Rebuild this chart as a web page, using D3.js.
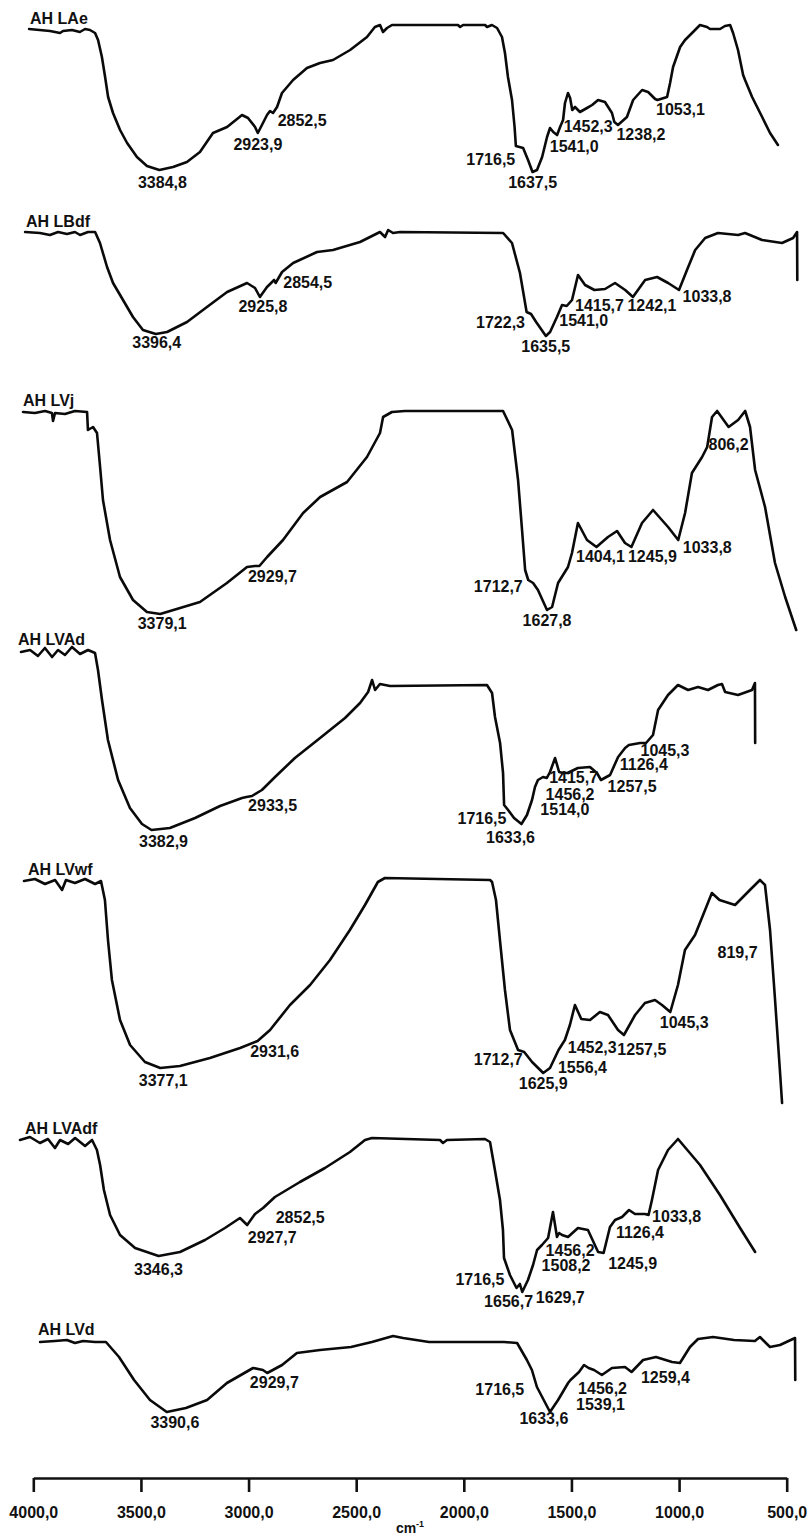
<!DOCTYPE html>
<html>
<head>
<meta charset="utf-8">
<script src="https://cdn.jsdelivr.net/npm/d3@7"></script>
<style>
  html, body { margin: 0; padding: 0; background: #fff; }
  svg { display: block; }
  text { font-family: "Liberation Sans", Arial, Helvetica, sans-serif; font-weight: bold; fill: #111; }
</style>
</head>
<body>
<svg id="chart" width="810" height="1537"></svg>
<script>
// ---- FTIR spectra: [wavenumber (cm-1), transmittance (a.u.)] ----
const samples = ["AH LAe", "AH LBdf", "AH LVj", "AH LVAd", "AH LVwf", "AH LVAdf", "AH LVd"];

const spectrumLAe = [[3995,98.4],[3897,97.6],[3850,96.8],[3836,97.6],[3794,98.0],[3757,97.2],[3733,98.4],[3710,98.0],[3686,96.8],[3672,94.0],[3654,87.2],[3639,79.2],[3625,71.2],[3602,64.8],[3569,58.0],[3536,52.8],[3490,47.2],[3443,43.6],[3385,42.0],[3321,43.2],[3256,45.2],[3195,49.2],[3134,56.8],[3068,59.2],[2998,64.0],[2970,62.8],[2937,59.2],[2924,56.8],[2900,60.8],[2881,64.0],[2867,65.6],[2853,64.8],[2834,67.2],[2811,72.8],[2759,78.0],[2694,82.8],[2633,84.8],[2572,86.0],[2492,90.0],[2413,95.2],[2376,99.2],[2352,100],[2338,97.2],[2319,98.8],[2296,100],[1987,100],[1977,99.2],[1963,100],[1860,100],[1851,99.2],[1828,100],[1804,98.8],[1781,95.2],[1767,88.8],[1753,79.2],[1734,70.0],[1722,59.2],[1716,51.6],[1682,50.8],[1659,46.0],[1638,41.2],[1617,42.0],[1593,47.2],[1570,55.2],[1556,58.8],[1541,57.2],[1523,56.0],[1509,59.2],[1495,62.0],[1486,68.8],[1472,72.8],[1462,70.8],[1452,66.0],[1439,67.2],[1416,65.2],[1383,66.8],[1359,68.0],[1331,70.0],[1299,69.2],[1266,64.8],[1255,61.2],[1238,60.0],[1196,63.2],[1167,70.0],[1125,74.0],[1097,73.2],[1064,70.4],[1053,70.0],[1008,71.2],[994,76.8],[980,83.2],[947,91.2],[924,94.0],[891,96.8],[854,100],[821,99.2],[807,98.4],[760,98.4],[737,99.6],[713,100],[699,96.8],[676,90.0],[652,80.0],[643,78.0],[610,71.2],[563,63.2],[526,56.8],[489,52.0]];

const spectrumLBdf = [[3986,100],[3919,99.6],[3874,98.8],[3837,100],[3797,99.2],[3761,100],[3738,98.8],[3702,100],[3670,100],[3648,95.6],[3616,86.0],[3589,79.6],[3544,72.8],[3499,66.0],[3454,60.8],[3396,59.2],[3345,60.0],[3255,64.0],[3165,70.0],[3074,76.0],[2984,79.6],[2948,77.6],[2926,74.0],[2894,78.0],[2880,79.2],[2862,80.8],[2855,79.6],[2826,84.0],[2776,87.6],[2668,92.0],[2596,92.8],[2474,96.0],[2384,100],[2361,98.0],[2347,100.8],[2325,99.6],[2293,100],[1828,99.6],[1788,95.6],[1752,83.6],[1722,68.0],[1702,67.2],[1679,64.0],[1635,58.4],[1616,60.0],[1585,66.0],[1562,70.8],[1541,70.4],[1517,72.8],[1490,82.8],[1458,78.8],[1416,76.8],[1368,77.2],[1323,79.6],[1277,76.8],[1242,74.0],[1187,80.8],[1133,82.0],[1083,79.6],[1034,76.8],[998,84.8],[961,92.8],[916,97.6],[858,99.6],[767,98.8],[736,99.6],[659,96.8],[569,95.6],[519,97.6],[501,100],[500,80.8]];

const spectrumLVj = [[4000,99.6],[3946,99.2],[3900,100],[3869,99.2],[3864,96.0],[3855,99.2],[3810,98.8],[3765,100],[3710,99.6],[3706,92.4],[3683,93.6],[3665,91.2],[3651,77.6],[3638,64.4],[3606,48.4],[3561,33.6],[3502,24.4],[3439,19.6],[3379,18.8],[3289,21.2],[3199,23.6],[3077,31.2],[2986,37.6],[2950,38.0],[2930,38.0],[2895,41.6],[2823,48.4],[2732,59.2],[2655,65.6],[2533,71.6],[2443,81.6],[2384,91.2],[2370,97.6],[2330,99.6],[2271,100],[1827,100],[1786,92.4],[1759,72.4],[1741,52.4],[1727,36.4],[1713,32.4],[1691,31.2],[1669,28.4],[1628,20.4],[1605,21.6],[1578,31.2],[1533,37.6],[1515,43.2],[1488,55.2],[1447,48.4],[1404,45.6],[1352,49.6],[1311,52.0],[1275,47.2],[1246,45.6],[1198,55.2],[1148,60.4],[1080,53.6],[1034,48.4],[1003,59.2],[972,75.2],[926,81.6],[903,85.6],[881,97.6],[858,100],[806,93.6],[763,96.4],[731,100],[709,93.6],[686,76.4],[641,61.6],[596,39.2],[550,25.6],[500,12.4]];

const spectrumLVAd = [[4000,99.2],[3957,100],[3920,97.6],[3887,100.8],[3853,97.2],[3825,100],[3792,98.0],[3759,101.2],[3721,98.4],[3683,100],[3650,98.8],[3636,92.0],[3617,80.0],[3589,64.0],[3541,48.0],[3485,36.8],[3428,30.4],[3383,28.0],[3296,28.8],[3177,32.8],[3059,37.6],[2955,40.8],[2934,41.2],[2908,41.6],[2861,44.0],[2799,49.2],[2705,56.8],[2586,64.8],[2468,72.8],[2397,78.8],[2359,83.2],[2340,88.0],[2326,84.0],[2303,86.4],[2255,85.6],[1797,86.0],[1773,82.8],[1759,73.2],[1735,62.8],[1721,50.8],[1716,38.0],[1697,36.0],[1669,32.8],[1634,30.4],[1608,34.0],[1584,40.0],[1570,45.2],[1556,48.0],[1532,49.2],[1514,48.8],[1499,51.2],[1475,56.8],[1456,51.2],[1437,50.8],[1416,50.8],[1367,52.8],[1310,53.2],[1277,50.8],[1258,48.0],[1215,50.0],[1177,57.2],[1144,60.8],[1126,62.0],[1073,62.8],[1045,62.8],[1012,66.0],[988,76.0],[941,82.0],[894,86.0],[846,84.0],[799,85.2],[752,84.0],[705,86.0],[686,86.4],[671,83.2],[610,82.0],[544,84.0],[530,86.8],[529,62.8]];

const spectrumLVwf = [[4000,99.6],[3950,100.4],[3904,98.4],[3858,100],[3826,96.0],[3808,100],[3767,98.8],[3721,100.4],[3675,98.4],[3648,99.6],[3630,92.0],[3616,76.0],[3598,60.0],[3561,44.0],[3515,34.0],[3447,27.2],[3377,24.8],[3287,25.6],[3150,28.8],[3012,32.8],[2932,35.6],[2875,40.0],[2784,50.0],[2692,58.0],[2601,68.0],[2510,80.0],[2441,90.0],[2382,99.2],[2350,100.8],[1869,100],[1860,99.2],[1842,92.0],[1824,76.0],[1801,56.0],[1778,40.0],[1741,32.0],[1713,31.2],[1677,27.2],[1626,22.8],[1595,24.8],[1556,32.0],[1527,36.0],[1504,42.0],[1481,50.0],[1452,44.4],[1412,44.0],[1367,47.2],[1330,46.0],[1284,40.0],[1257,38.0],[1206,46.0],[1161,50.8],[1115,52.0],[1083,50.0],[1045,47.2],[1010,58.0],[978,72.0],[932,78.0],[886,88.0],[855,94.8],[820,92.0],[749,90.0],[681,96.0],[635,100],[612,98.0],[589,80.0],[566,52.0],[544,24.0],[534,10.8]];

const spectrumLVAdf = [[4000,99.6],[3953,100.8],[3906,98.4],[3868,100],[3835,96.4],[3811,99.6],[3773,98.0],[3740,100.4],[3693,97.2],[3660,99.6],[3637,95.6],[3622,89.6],[3604,79.6],[3575,69.6],[3528,61.6],[3457,56.4],[3346,53.2],[3245,54.8],[3127,59.6],[3033,64.4],[2962,68.4],[2928,65.6],[2891,70.0],[2853,72.4],[2797,76.8],[2679,82.8],[2561,88.4],[2443,94.8],[2372,99.6],[2339,100.4],[2018,99.6],[2004,98.4],[1985,99.6],[1806,100],[1782,98.8],[1759,87.6],[1735,75.6],[1721,63.6],[1716,52.4],[1688,45.6],[1657,40.4],[1641,42.0],[1630,38.8],[1603,43.6],[1579,49.6],[1560,55.6],[1537,57.6],[1508,60.4],[1485,70.8],[1466,60.8],[1456,62.4],[1442,61.6],[1414,60.8],[1367,64.4],[1320,63.6],[1272,54.8],[1246,54.4],[1216,64.8],[1192,67.6],[1159,68.8],[1126,71.6],[1098,70.0],[1051,70.0],[1034,69.6],[1018,75.6],[989,87.6],[942,95.6],[895,100],[791,89.6],[697,77.6],[602,64.4],[531,54.8]];

const spectrumLVd = [[3972,99.2],[3904,99.6],[3849,100],[3812,98.8],[3775,99.6],[3720,99.2],[3670,99.2],[3610,93.2],[3541,84.0],[3468,76.0],[3391,71.2],[3303,72.8],[3206,76.0],[3115,82.8],[2995,88.8],[2950,88.0],[2930,86.8],[2862,90.0],[2794,94.8],[2688,96.0],[2546,97.2],[2450,99.2],[2353,101.6],[2307,100.8],[2188,99.2],[1844,99.2],[1784,98.8],[1739,92.0],[1716,88.0],[1693,81.2],[1633,71.2],[1596,76.0],[1550,82.8],[1539,84.0],[1500,87.2],[1477,90.0],[1456,88.8],[1431,88.0],[1395,86.0],[1349,88.8],[1289,89.2],[1259,87.2],[1206,92.0],[1147,93.2],[1073,91.2],[1037,90.8],[991,97.2],[954,100.4],[885,101.2],[789,100],[693,99.6],[670,101.2],[624,97.2],[578,98.0],[509,100.8],[508,84.0]];

// ---- labelled band positions (cm-1) ----
const peaksLAe   = [3384.8, 2923.9, 2852.5, 1716.5, 1637.5, 1541.0, 1452.3, 1238.2, 1053.1];
const peaksLBdf  = [3396.4, 2925.8, 2854.5, 1722.3, 1635.5, 1541.0, 1415.7, 1242.1, 1033.8];
const peaksLVj   = [3379.1, 2929.7, 1712.7, 1627.8, 1404.1, 1245.9, 1033.8, 806.2];
const peaksLVAd  = [3382.9, 2933.5, 1716.5, 1633.6, 1514.0, 1456.2, 1415.7, 1257.5, 1126.4, 1045.3];
const peaksLVwf  = [3377.1, 2931.6, 1712.7, 1625.9, 1556.4, 1452.3, 1257.5, 1045.3, 819.7];
const peaksLVAdf = [3346.3, 2927.7, 2852.5, 1716.5, 1656.7, 1629.7, 1508.2, 1456.2, 1245.9, 1126.4, 1033.8];
const peaksLVd   = [3390.6, 2929.7, 1716.5, 1633.6, 1539.1, 1456.2, 1259.4];

const rulerTicks = [4000, 3500, 3000, 2500, 2000, 1500, 1000, 500];
const axisTitle = "cm";
const axisTitleSup = "-1";

// ---- layout ----
const W = 810, H = 1537;
const spectra = [spectrumLAe, spectrumLBdf, spectrumLVj, spectrumLVAd, spectrumLVwf, spectrumLVAdf, spectrumLVd];
const peaks = [peaksLAe, peaksLBdf, peaksLVj, peaksLVAd, peaksLVwf, peaksLVAdf, peaksLVd];

// each trace is its own strip: pixel span of 4000 -> 500 cm-1 and the y of the 100 level
const strips = [
  { x0: 28, x1: 775.6, top: 25,   titleDx: 2,  titleDy: -1 },
  { x0: 22, x1: 797.3, top: 232,  titleDx: 4,  titleDy: -5 },
  { x0: 23, x1: 796.2, top: 411,  titleDx: 0,  titleDy: -5 },
  { x0: 21, x1: 761.3, top: 650,  titleDx: -3, titleDy: -5 },
  { x0: 24, x1: 789.5, top: 880,  titleDx: 4,  titleDy: -5 },
  { x0: 20, x1: 761.7, top: 1139, titleDx: 5,  titleDy: -5 },
  { x0: 34, x1: 797.0, top: 1340, titleDx: 4,  titleDy: -5 }
];
const pxPerUnit = 2.5;
const fontSize = 16;

// label offsets [dx, dy] from the labelled point on the trace
const labelOffsets = [
  [[3,18],[0,17],[29,13],[-25,21],[0,16],[21,20],[16,22],[23,15],[23,15]],
  [[1,14],[3,15],[32,5],[-26,16],[0,16],[17,20],[5,21],[19,14],[28,12]],
  [[2,15],[13,16],[-30,12],[0,16],[4,15],[21,15],[29,13],[0,23]],
  [[12,17],[26,14],[-22,22],[-11,19],[18,37],[11,28],[6,10],[31,12],[15,25],[19,13]],
  [[3,18],[17,16],[-26,13],[0,16],[24,23],[11,34],[18,20],[14,16],[18,58]],
  [[0,19],[25,18],[37,15],[-24,30],[-8,19],[38,11],[18,33],[11,23],[29,16],[11,28],[28,7]],
  [[8,16],[7,15],[-32,25],[-6,12],[30,30],[14,26],[34,11]]
];

const ruler = { x0: 33.3, x1: 786.7, y: 1478, tick: 14 };

const svg = d3.select("#chart").attr("viewBox", `0 0 ${W} ${H}`);
svg.append("rect").attr("width", W).attr("height", H).attr("fill", "#fff");

const fmt = v => d3.format(".1f")(v).replace(".", ",");

function valueAt(series, wn) {
  for (let i = 0; i < series.length - 1; i++) {
    const [a, ta] = series[i], [b, tb] = series[i + 1];
    if (wn <= a && wn >= b) return a === b ? ta : ta + (tb - ta) * (a - wn) / (a - b);
  }
  return series[series.length - 1][1];
}

spectra.forEach((series, i) => {
  const s = strips[i];
  const x = d3.scaleLinear().domain([4000, 500]).range([s.x0, s.x1]);
  const y = d3.scaleLinear().domain([0, 100]).range([s.top + 100 * pxPerUnit, s.top]);
  const g = svg.append("g").attr("class", "strip");

  g.append("path")
    .datum(series)
    .attr("fill", "none")
    .attr("stroke", "#0a0a0a")
    .attr("stroke-width", 2.6)
    .attr("stroke-linejoin", "round")
    .attr("stroke-linecap", "round")
    .attr("d", d3.line().x(d => x(d[0])).y(d => y(d[1])));

  g.append("text")
    .attr("x", s.x0 + s.titleDx)
    .attr("y", y(100) + s.titleDy)
    .attr("font-size", fontSize)
    .text(samples[i]);

  g.selectAll("text.peak")
    .data(peaks[i])
    .join("text")
    .attr("class", "peak")
    .attr("text-anchor", "middle")
    .attr("font-size", fontSize)
    .attr("x", (d, j) => x(d) + labelOffsets[i][j][0])
    .attr("y", (d, j) => y(valueAt(series, d)) + labelOffsets[i][j][1])
    .text(d => fmt(d));
});

// wavenumber ruler
const xRuler = d3.scaleLinear().domain([4000, 500]).range([ruler.x0, ruler.x1]);
const axis = svg.append("g")
  .attr("transform", `translate(0,${ruler.y})`)
  .call(d3.axisBottom(xRuler).tickValues(rulerTicks).tickSize(ruler.tick).tickSizeOuter(0).tickPadding(15).tickFormat(fmt));
axis.select(".domain").attr("stroke", "#111").attr("stroke-width", 2.6);
axis.selectAll(".tick line").attr("stroke", "#111").attr("stroke-width", 2.6);
axis.selectAll(".tick text")
  .attr("fill", "#111")
  .style("font-family", '"Liberation Sans", Arial, sans-serif')
  .style("font-weight", "bold")
  .style("font-size", fontSize + "px");

const t = svg.append("text")
  .attr("x", (xRuler(2500) + xRuler(2000)) / 2)
  .attr("y", 1533)
  .attr("text-anchor", "middle")
  .attr("font-size", 14);
t.append("tspan").text(axisTitle);
t.append("tspan").attr("font-size", 9).attr("dy", -6).text(axisTitleSup);
</script>
</body>
</html>
